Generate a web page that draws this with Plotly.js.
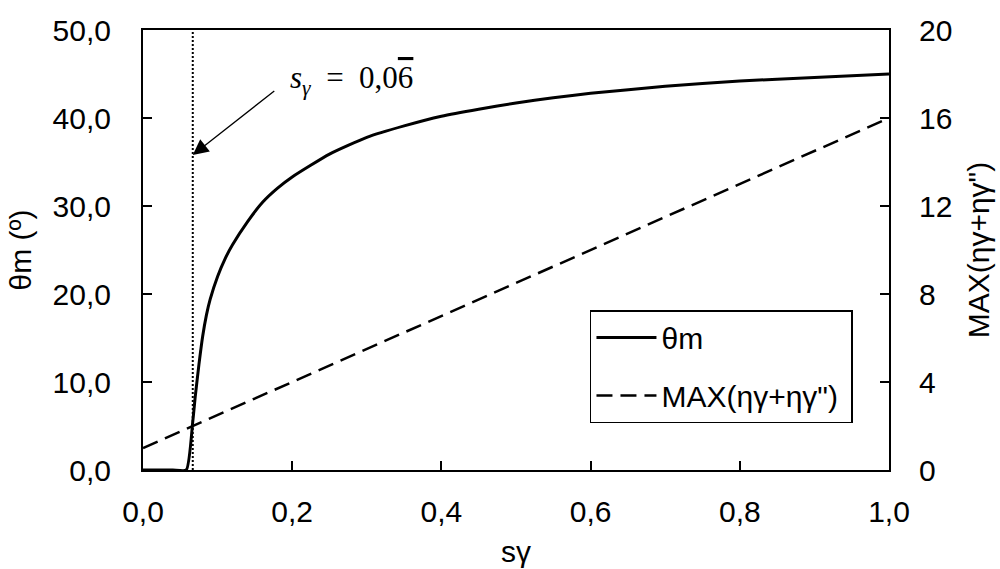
<!DOCTYPE html>
<html>
<head>
<meta charset="utf-8">
<script src="https://cdn.plot.ly/plotly-3.0.1.min.js"></script>
<style>
  html, body { margin: 0; padding: 0; background: #fff; }
  #chart { width: 1000px; height: 569px; }
</style>
</head>
<body>
<div id="chart"></div>
<script>
// s_gamma values and theta_m (degrees)
const sGamma = [0, 0.02, 0.04, 0.058, 0.0667, 0.07, 0.075, 0.08, 0.085, 0.09, 0.10, 0.11, 0.12, 0.14, 0.16, 0.18, 0.20, 0.25, 0.30, 0.35, 0.40, 0.45, 0.50, 0.55, 0.60, 0.70, 0.80, 0.90, 1.0];
const thetaM = [0, 0, 0, 0, 5.5, 8.3, 12.0, 15.2, 17.6, 19.4, 22.0, 24.0, 25.6, 28.2, 30.4, 32.0, 33.3, 35.9, 37.8, 39.1, 40.2, 41.0, 41.7, 42.3, 42.8, 43.6, 44.2, 44.6, 45.0];

// MAX(ηγ+ηγ") on the secondary axis
const maxX = [0, 1];
const maxEta = [1, 16];

// vertical limit s_gamma = 0.0667
const sLimitX = [0.0667, 0.0667];
const sLimitY = [0, 50];

// annotation arrow: tail and head in data coordinates
const arrowTail = [0.178, 43.2];
const arrowHead = [0.0667, 35.8];
const labelPos = [0.195, 44.3];

const FONT = '"Liberation Sans", Arial, sans-serif';
const FS = 30;

const traces = [
  {
    x: sGamma, y: thetaM, type: 'scatter', mode: 'lines', name: 'θm',
    legendgroup: 'a',
    line: {color: '#000', width: 3, shape: 'spline', smoothing: 0.5}, xaxis: 'x', yaxis: 'y'
  },
  {
    x: maxX, y: maxEta, type: 'scatter', mode: 'lines', name: 'MAX(ηγ+ηγ")\u00a0',
    legendgroup: 'b',
    line: {color: '#000', width: 2.5, dash: '16px,8px'}, xaxis: 'x', yaxis: 'y2'
  },
  {
    x: sLimitX, y: sLimitY, type: 'scatter', mode: 'lines', showlegend: false,
    line: {color: '#000', width: 2, dash: '2px,2px'}, xaxis: 'x', yaxis: 'y', hoverinfo: 'skip'
  }
];

const layout = {
  width: 1000, height: 569,
  margin: {l: 143, r: 111, t: 30, b: 99, pad: 0},
  paper_bgcolor: '#fff', plot_bgcolor: '#fff',
  separators: ', ',
  font: {family: FONT, size: FS, color: '#000'},
  showlegend: true,
  legend: {
    x: 0.9517, y: 0.3636, xanchor: 'right', yanchor: 'top',
    bordercolor: '#000', borderwidth: 1.5, bgcolor: '#fff',
    font: {family: FONT, size: FS, color: '#000'},
    itemwidth: 60, traceorder: 'grouped', tracegroupgap: 16
  },
  xaxis: {
    range: [0, 1], dtick: 0.2, tick0: 0, tickformat: '.1f',
    showgrid: false, zeroline: false,
    showline: true, linecolor: '#000', linewidth: 2, mirror: true,
    ticks: 'inside', ticklen: 9, tickwidth: 2, tickcolor: '#000',
    ticklabelstandoff: 14,
    tickfont: {family: FONT, size: FS, color: '#000'},
    title: {text: 'sγ', font: {family: FONT, size: FS, color: '#000'}, standoff: 14}
  },
  yaxis: {
    range: [0, 50], dtick: 10, tick0: 0, tickformat: '.1f',
    showgrid: false, zeroline: false,
    showline: true, linecolor: '#000', linewidth: 2,
    ticks: 'inside', ticklen: 9, tickwidth: 2, tickcolor: '#000',
    ticklabelstandoff: 24,
    tickfont: {family: FONT, size: FS, color: '#000'},
    title: {text: 'θm (º)', font: {family: FONT, size: FS, color: '#000'}, standoff: 12}
  },
  yaxis2: {
    range: [0, 20], dtick: 4, tick0: 0,
    overlaying: 'y', side: 'right',
    showgrid: false, zeroline: false,
    showline: true, linecolor: '#000', linewidth: 2,
    ticks: 'inside', ticklen: 9, tickwidth: 2, tickcolor: '#000',
    ticklabelstandoff: 22,
    tickfont: {family: FONT, size: FS, color: '#000'},
    title: {text: 'MAX(ηγ+ηγ")', font: {family: FONT, size: FS, color: '#000'}, standoff: 17}
  },
  annotations: [
    {
      x: arrowHead[0], y: arrowHead[1], xref: 'x', yref: 'y',
      ax: arrowTail[0], ay: arrowTail[1], axref: 'x', ayref: 'y',
      text: '', showarrow: true, arrowhead: 2, arrowsize: 2.4, arrowwidth: 1.3,
      arrowcolor: '#000', standoff: 0, startstandoff: 0
    },
    {
      x: labelPos[0], y: labelPos[1], xref: 'x', yref: 'y',
      xanchor: 'left', yanchor: 'middle', showarrow: false,
      text: '<i>s</i><sub><i>γ</i></sub>\u2002=\u20020,0<span style="text-decoration:overline">6</span>',
      font: {family: '"Liberation Serif", "DejaVu Serif", serif', size: 31, color: '#000'}
    }
  ]
};

Plotly.newPlot('chart', traces, layout, {staticPlot: true, displayModeBar: false});
</script>
</body>
</html>
